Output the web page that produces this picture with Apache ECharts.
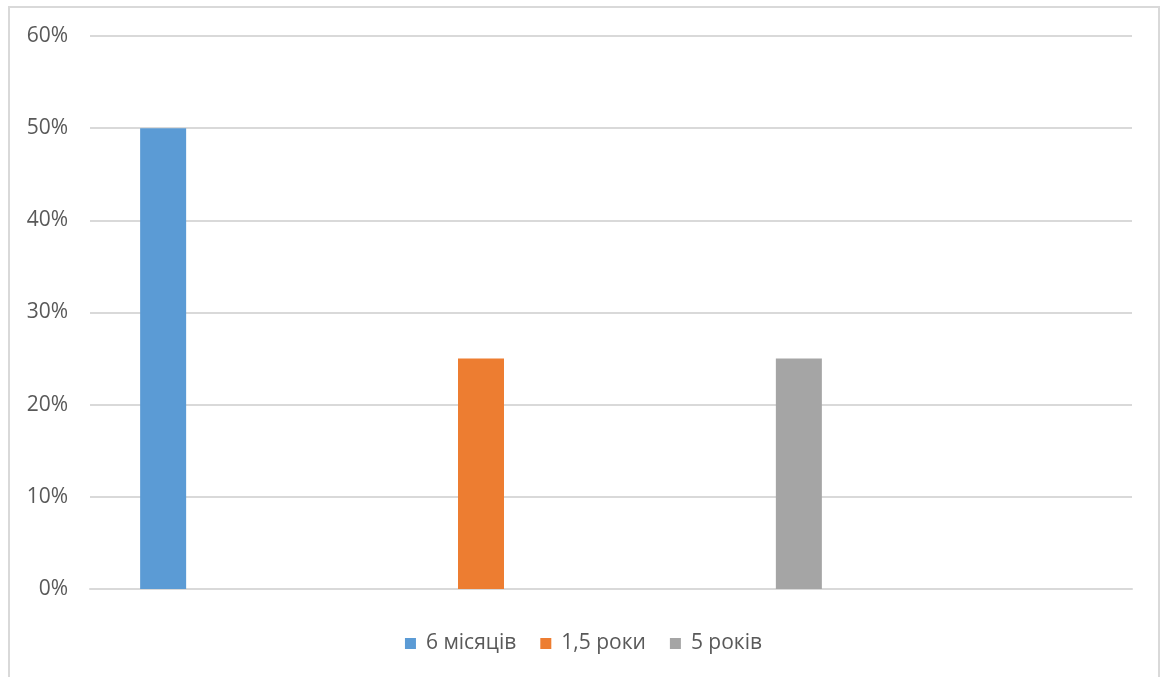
<!DOCTYPE html>
<html>
<head>
<meta charset="utf-8">
<script src="https://cdn.jsdelivr.net/npm/echarts@6/dist/echarts.min.js"></script>
<style>
html,body{margin:0;padding:0;background:#fff;}
#frame{position:absolute;left:8px;top:6px;width:1152px;height:700px;border:2px solid #d9d9d9;box-sizing:border-box;}
#chart{position:absolute;left:0;top:0;width:1167px;height:677px;}
</style>
</head>
<body>
<div id="frame"></div>
<div id="chart"></div>
<script>
const categories = [''];
const seriesNames = ['6 місяців', '1,5 роки', '5 років'];
const seriesValues = [[0.50], [0.25], [0.25]];
const yTicks = [0, 0.1, 0.2, 0.3, 0.4, 0.5, 0.6];
const colors = ['#5B9BD5', '#ED7D31', '#A5A5A5'];

const chart = echarts.init(document.getElementById('chart'), null, {renderer: 'canvas'});
const font = '"Open Sans", "Noto Sans", sans-serif';
chart.setOption({
  animation: false,
  color: colors,
  textStyle: {fontFamily: font},
  legend: {
    data: seriesNames,
    top: 628,
    left: 'center',
    itemWidth: 11,
    itemHeight: 11,
    itemGap: 24,
    icon: 'rect',
    textStyle: {fontSize: 21, color: '#595959', fontFamily: font, padding: [0, 0, 0, 5]}
  },
  grid: [
    {left: 90, right: 35, top: 36, bottom: 88},
    {left: 90, width: 782, top: 36, bottom: 88}
  ],
  xAxis: [
    {type: 'category', gridIndex: 0, data: categories, axisLine: {show: true, lineStyle: {color: '#d9d9d9', width: 2}}, axisTick: {show: false}, axisLabel: {show: false}},
    {type: 'category', gridIndex: 1, data: categories, show: false}
  ],
  yAxis: [
    {type: 'value', gridIndex: 0, min: yTicks[0], max: yTicks[yTicks.length - 1], interval: 0.1,
     axisLine: {show: false}, axisTick: {show: false},
     splitLine: {lineStyle: {color: '#d9d9d9', width: 2}},
     axisLabel: {fontSize: 21, color: '#595959', margin: 22, fontFamily: font,
       formatter: v => Math.round(v * 100) + '%'}},
    {type: 'value', gridIndex: 1, min: yTicks[0], max: yTicks[yTicks.length - 1], show: false}
  ],
  series: seriesNames.map((n, i) => ({
    name: n,
    type: 'bar',
    xAxisIndex: 1,
    yAxisIndex: 1,
    data: seriesValues[i],
    barWidth: 46,
    barGap: '591%'
  }))
});
</script>
</body>
</html>
